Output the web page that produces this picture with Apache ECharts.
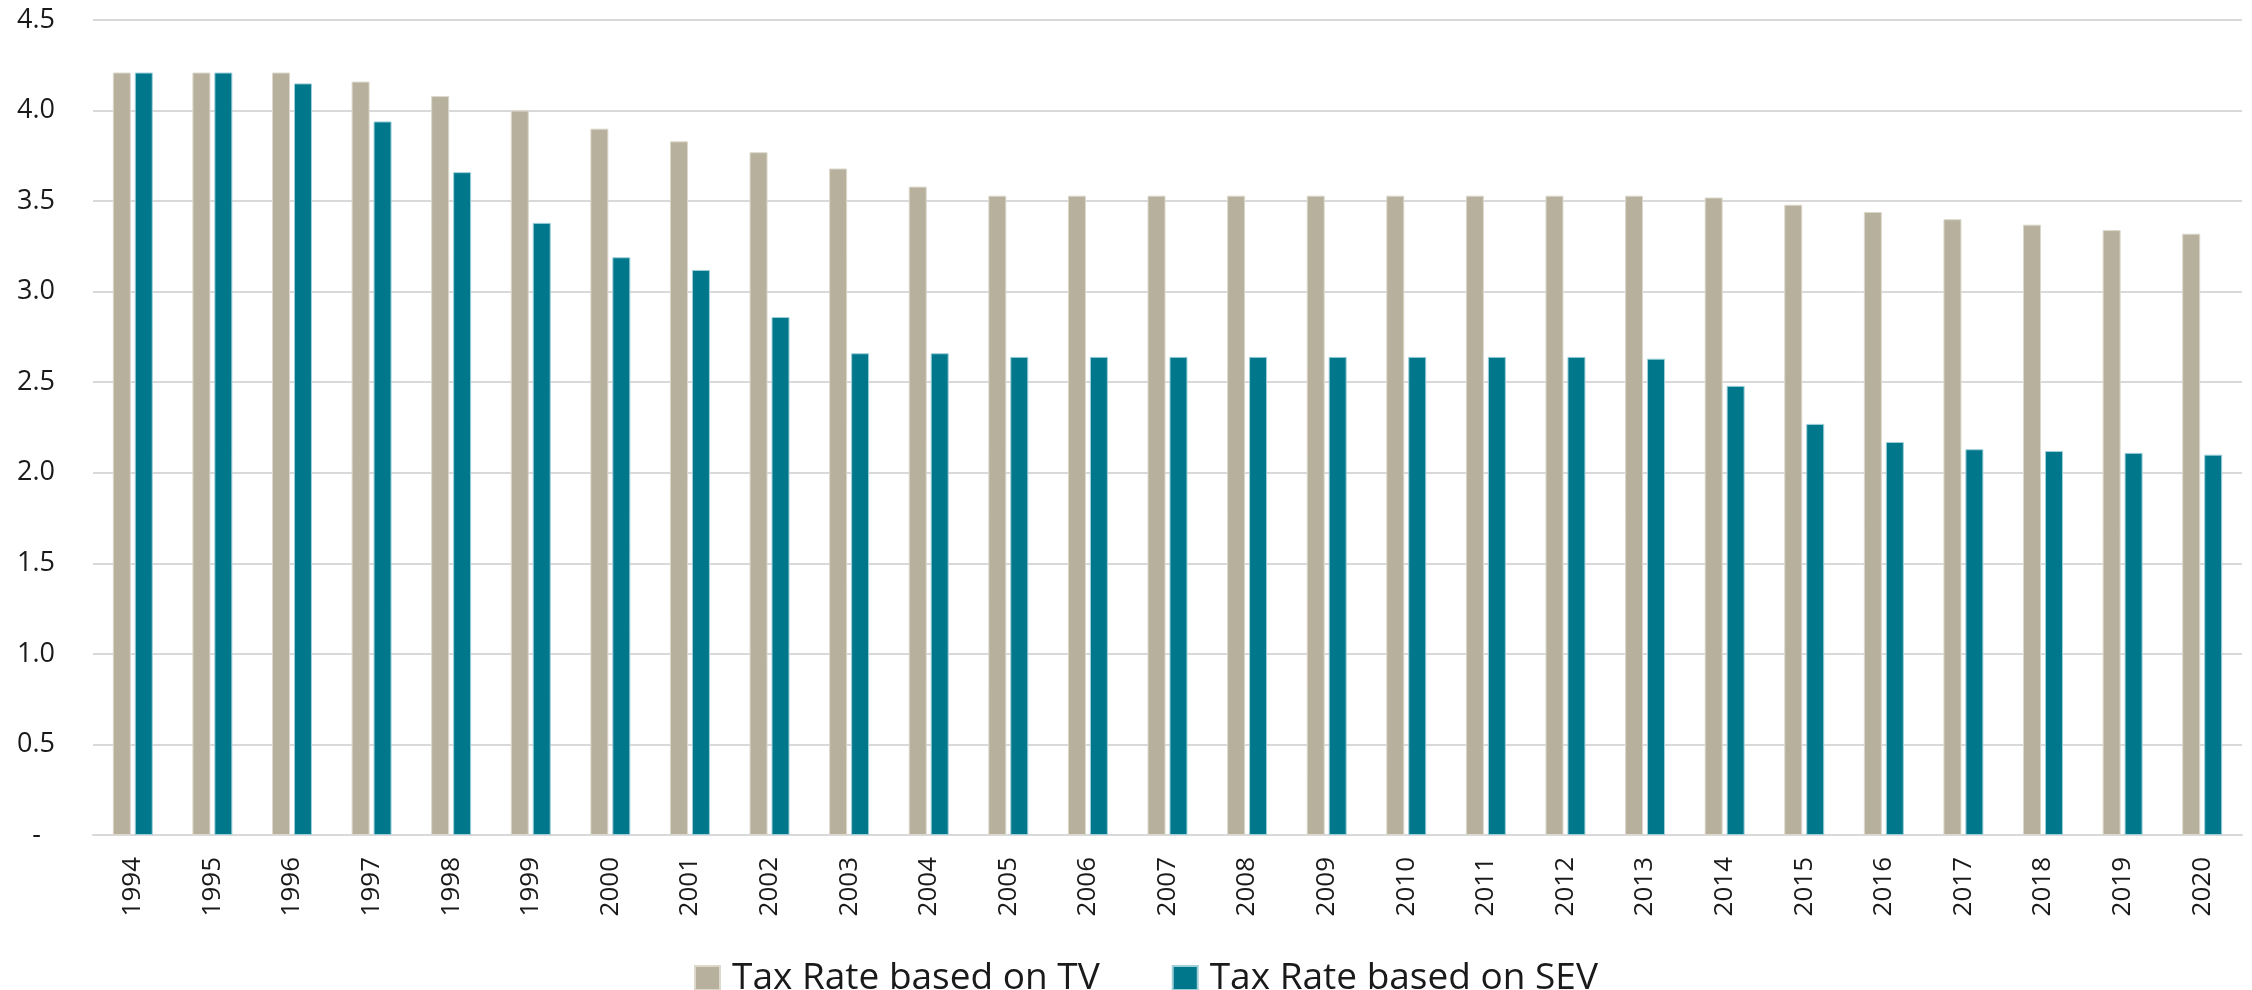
<!DOCTYPE html>
<html>
<head>
<meta charset="utf-8">
<script src="https://cdn.jsdelivr.net/npm/echarts@6/dist/echarts.min.js"></script>
<style>
  html, body { margin: 0; padding: 0; background: #fff; }
  #chart { width: 2252px; height: 990px; }
</style>
</head>
<body>
<div id="chart"></div>
<script>
// years on the x axis
const years = ['1994', '1995', '1996', '1997', '1998', '1999', '2000', '2001', '2002',
  '2003', '2004', '2005', '2006', '2007', '2008', '2009', '2010', '2011', '2012',
  '2013', '2014', '2015', '2016', '2017', '2018', '2019', '2020'];

// tax rate based on taxable value
const tvRate = [4.21, 4.21, 4.21, 4.16, 4.08, 4.00, 3.90, 3.83, 3.77,
  3.68, 3.58, 3.53, 3.53, 3.53, 3.53, 3.53, 3.53, 3.53, 3.53,
  3.53, 3.52, 3.48, 3.44, 3.40, 3.37, 3.34, 3.32];

// tax rate based on state equalized value
const sevRate = [4.21, 4.21, 4.15, 3.94, 3.66, 3.38, 3.19, 3.12, 2.86,
  2.66, 2.66, 2.64, 2.64, 2.64, 2.64, 2.64, 2.64, 2.64, 2.64,
  2.63, 2.48, 2.27, 2.17, 2.13, 2.12, 2.11, 2.10];

const seriesNames = ['Tax Rate based on TV', 'Tax Rate based on SEV'];

const chart = echarts.init(document.getElementById('chart'));
const font = '"Open Sans", sans-serif';

chart.setOption({
  animation: false,
  color: ['#b7b09c', '#00778a'],
  grid: { left: 93, right: 10, top: 20, bottom: 155 },
  legend: {
    data: seriesNames,
    left: 689,
    top: 953,
    itemWidth: 25,
    itemHeight: 24,
    itemGap: 72,
    icon: 'rect',
    textStyle: { fontFamily: font, fontSize: 37, lineHeight: 40, color: '#1a1a1a', padding: [0, 0, 0, 7] }
  },
  xAxis: {
    type: 'category',
    data: years,
    axisTick: { show: false },
    axisLine: { lineStyle: { color: '#d9d9d9', width: 2 } },
    axisLabel: {
      rotate: 90,
      margin: 22,
      fontFamily: font,
      fontSize: 26,
      color: '#1a1a1a'
    }
  },
  yAxis: {
    type: 'value',
    min: 0,
    max: 4.5,
    interval: 0.5,
    axisLine: { show: false },
    axisTick: { show: false },
    splitLine: { lineStyle: { color: '#d9d9d9', width: 2 } },
    axisLabel: {
      margin: 38,
      fontFamily: font,
      fontSize: 27,
      color: '#1a1a1a',
      formatter: function (v) {
        return v === 0 ? '-  ' : v.toFixed(1);
      }
    }
  },
  series: [
    {
      name: seriesNames[0],
      type: 'bar',
      data: tvRate,
      barWidth: 18,
      barGap: '22%',
      itemStyle: { borderColor: '#dcd8cc', borderWidth: 1 }
    },
    {
      name: seriesNames[1],
      type: 'bar',
      data: sevRate,
      barWidth: 18,
      itemStyle: { borderColor: '#9fd0da', borderWidth: 1 }
    }
  ]
});
</script>
</body>
</html>
